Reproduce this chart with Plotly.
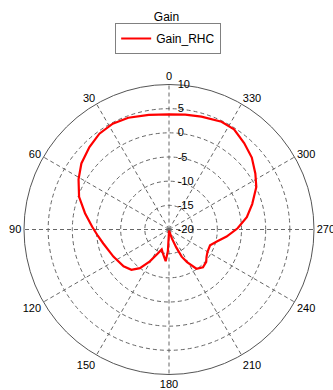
import plotly.graph_objects as go

theta_deg = [0, 10, 20, 28, 36, 44, 53, 61, 70, 79, 88, 95, 102, 116, 129, 137,
             143, 149, 155, 160, 165, 169, 174, 177, 180, 186, 192, 198, 202, 205,
             209, 215, 222, 229, 234, 240, 249, 256, 263, 271, 279, 287, 296, 303,
             311, 319, 327, 334, 344, 352, 360]
gain_rhc = [3.8, 4.1, 4.6, 4.8, 4.5, 3.7, 2.7, 1.4, -0.2, -2.3, -4.1, -5.2, -6.1,
            -7.2, -7.9, -8.6, -10.0, -12.3, -14.5, -15.6, -15.0, -14.4, -13.4,
            -15.5, -19.5, -19.8, -19.5, -18.0, -16.0, -13.8, -12.3, -10.1, -9.5,
            -9.8, -10.4, -10.8, -10.9, -9.8, -8.0, -5.8, -3.7, -2.0, 0.1, 1.3,
            2.7, 3.7, 4.7, 4.8, 4.3, 4.0, 3.8]
angle_ticks = list(range(0, 360, 30))
radial_ticks = [-20, -15, -10, -5, 0, 5, 10]

W, H = 333, 390
cx, cy, R = 169, 229.5, 145

FONT = "Arial, Liberation Sans, sans-serif"

fig = go.Figure()
fig.add_trace(go.Scatterpolar(
    r=gain_rhc, theta=theta_deg, mode="lines", name="Gain_RHC",
    line=dict(color="#ff0000", width=2.2), showlegend=True,
))

fig.update_layout(
    template="none",
    width=W, height=H,
    margin=dict(l=0, r=0, t=0, b=0),
    paper_bgcolor="white", plot_bgcolor="white",
    font=dict(family=FONT, size=11, color="#000000"),
    title=dict(text="Gain", x=0.5, xanchor="center", y=1 - 17 / H, yanchor="middle",
               yref="container", font=dict(size=12, color="#000000", family=FONT)),
    showlegend=True,
    legend=dict(x=0.505, xanchor="center", y=1 - 23 / H, yanchor="top",
                orientation="h", bordercolor="#808080", borderwidth=1,
                bgcolor="white", font=dict(size=12, color="#000000", family=FONT)),
    polar=dict(
        domain=dict(x=[(cx - R) / W, (cx + R) / W],
                    y=[(H - cy - R) / H, (H - cy + R) / H]),
        bgcolor="white",
        angularaxis=dict(
            rotation=90, direction="counterclockwise",
            tickmode="array", tickvals=angle_ticks,
            ticktext=[str(a) for a in angle_ticks],
            ticks="", showline=True, linecolor="#555555", linewidth=1,
            showgrid=True, gridcolor="#666666", gridwidth=1, griddash="4px,3px",
            tickfont=dict(size=11, color="#000000", family=FONT),
        ),
        radialaxis=dict(
            range=[-20, 10], tickmode="array", tickvals=radial_ticks,
            ticktext=[str(v) for v in radial_ticks],
            angle=90, side="clockwise", showline=False,
            ticks="outside", ticklen=6, tickcolor="rgba(0,0,0,0)",
            showgrid=True, gridcolor="#666666", gridwidth=1, griddash="4px,3px",
            tickfont=dict(size=11, color="#000000", family=FONT), tickangle=90,
        ),
    ),
)

fig.write_html("out.html", config={"displayModeBar": False},
               post_script="document.body.style.margin='0';")
